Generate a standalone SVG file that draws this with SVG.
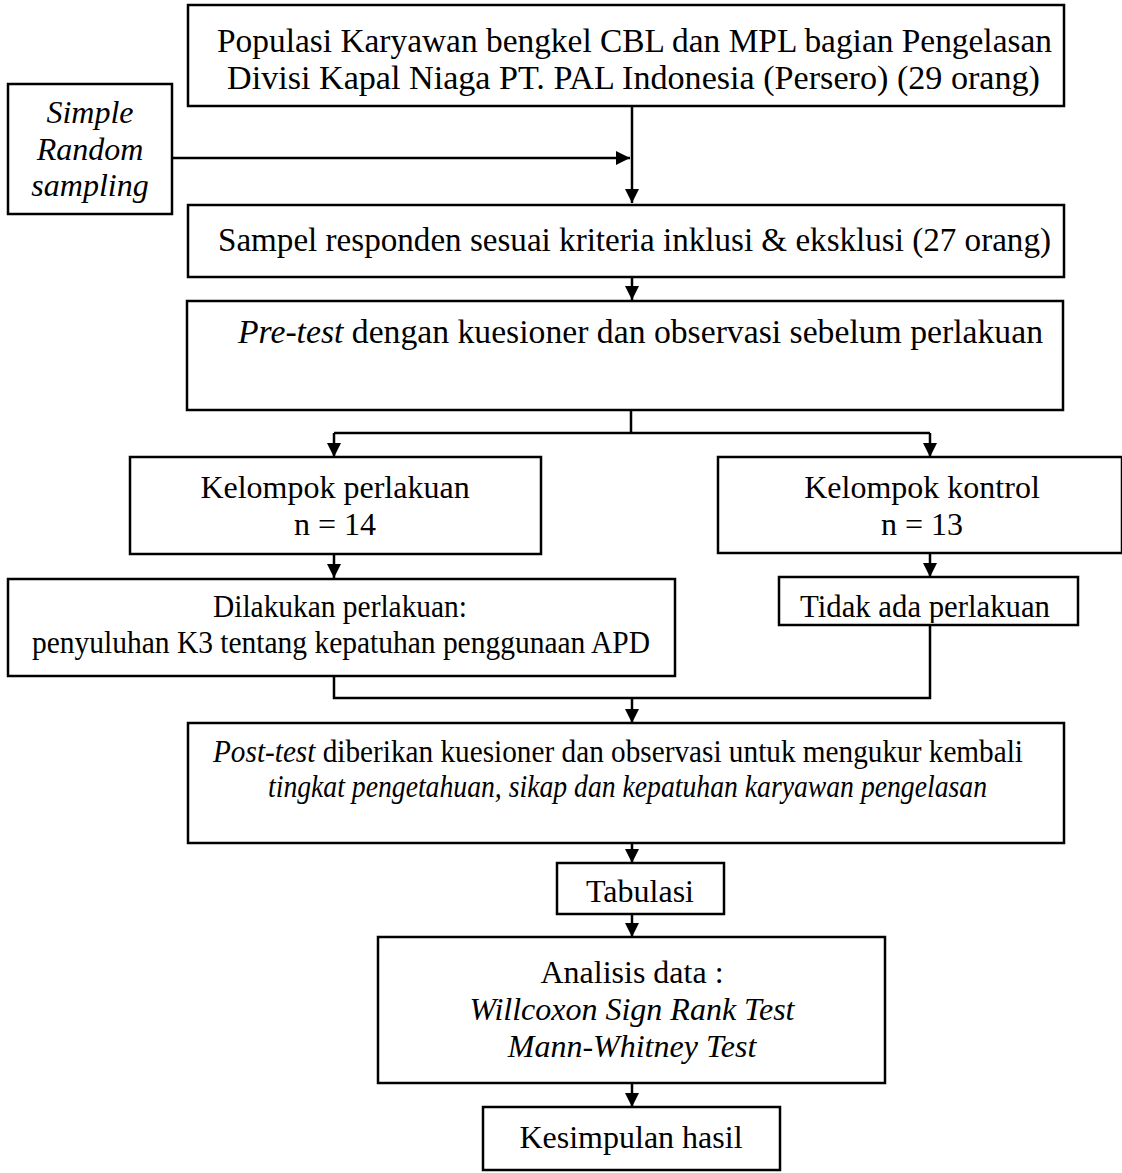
<svg xmlns="http://www.w3.org/2000/svg" width="1122" height="1173" viewBox="0 0 1122 1173">
<defs>
<marker id="ah" markerUnits="userSpaceOnUse" markerWidth="14" markerHeight="16" refX="14" refY="7" orient="auto">
<path d="M0,0 L14,7 L0,14 Z" fill="#000"/>
</marker>
<clipPath id="clipTidak"><rect x="779" y="577" width="299" height="46"/></clipPath>
<style>
rect{fill:#fff;stroke:#000;stroke-width:2.5}
text{font-family:"Liberation Serif","Times New Roman",serif;font-size:32px;fill:#000;text-anchor:middle}
.i{font-style:italic}
.big{font-size:33px}
.mid{font-size:31px}
.c{fill:none;stroke:#000;stroke-width:2.5}
</style>
</defs>
<rect x="0" y="0" width="1122" height="1173" style="fill:#fff;stroke:none"/>
<g id="connectors">
<path class="c" d="M632,107 V203" marker-end="url(#ah)"/>
<path class="c" d="M172,158 H630" marker-end="url(#ah)"/>
<path class="c" d="M632,278 V300" marker-end="url(#ah)"/>
<path class="c" d="M631,410 V433 M334,433 H930"/>
<path class="c" d="M334,433 V457" marker-end="url(#ah)"/>
<path class="c" d="M930,433 V457" marker-end="url(#ah)"/>
<path class="c" d="M334,554 V578" marker-end="url(#ah)"/>
<path class="c" d="M930,554 V577" marker-end="url(#ah)"/>
<path class="c" d="M334,676 V698 H930 V625"/>
<path class="c" d="M632,698 V723" marker-end="url(#ah)"/>
<path class="c" d="M632,843 V863" marker-end="url(#ah)"/>
<path class="c" d="M632,914 V937" marker-end="url(#ah)"/>
<path class="c" d="M632,1083 V1107" marker-end="url(#ah)"/>
</g>
<g id="populasi">
<rect x="188" y="5" width="876" height="101"/>
<text class="big" x="634.5" y="52" textLength="835" lengthAdjust="spacingAndGlyphs">Populasi Karyawan bengkel CBL dan MPL bagian Pengelasan</text>
<text class="big" x="633.5" y="89" textLength="813" lengthAdjust="spacingAndGlyphs">Divisi Kapal Niaga PT. PAL Indonesia (Persero) (29 orang)</text>
</g>
<g id="simple-random">
<rect x="8" y="84" width="164" height="130"/>
<text class="i" x="90" y="123">Simple</text>
<text class="i" x="90" y="160">Random</text>
<text class="i" x="90" y="196">sampling</text>
</g>
<g id="sampel">
<rect x="188" y="205" width="876" height="72"/>
<text class="big" x="634.5" y="251" textLength="833" lengthAdjust="spacingAndGlyphs">Sampel responden sesuai kriteria inklusi &amp; eksklusi (27 orang)</text>
</g>
<g id="pretest">
<rect x="187" y="301" width="876" height="109"/>
<text class="big" x="640.5" y="343" textLength="805" lengthAdjust="spacingAndGlyphs"><tspan class="i">Pre-test</tspan> dengan kuesioner dan observasi sebelum perlakuan</text>
</g>
<g id="kelompok-perlakuan">
<rect x="130" y="457" width="411" height="97"/>
<text x="335" y="498">Kelompok perlakuan</text>
<text x="335" y="535">n = 14</text>
</g>
<g id="kelompok-kontrol">
<rect x="718" y="457" width="404" height="96"/>
<text x="922" y="498">Kelompok kontrol</text>
<text x="922" y="535">n = 13</text>
</g>
<g id="dilakukan">
<rect x="8" y="579" width="667" height="97"/>
<text class="mid" x="340" y="617" textLength="254" lengthAdjust="spacingAndGlyphs">Dilakukan perlakuan:</text>
<text class="mid" x="341" y="653" textLength="618" lengthAdjust="spacingAndGlyphs">penyuluhan K3 tentang kepatuhan penggunaan APD</text>
</g>
<g id="tidak-ada">
<rect x="779" y="577" width="299" height="48"/>
<text class="mid" x="925" y="617" textLength="250" lengthAdjust="spacingAndGlyphs" clip-path="url(#clipTidak)">Tidak ada perlakuan</text>
</g>
<g id="posttest">
<rect x="188" y="723" width="876" height="120"/>
<text class="mid" x="618" y="762" textLength="810" lengthAdjust="spacingAndGlyphs"><tspan class="i">Post-test</tspan> diberikan kuesioner dan observasi untuk mengukur kembali</text>
<text class="mid i" x="627.5" y="797" textLength="719" lengthAdjust="spacingAndGlyphs">tingkat pengetahuan, sikap dan kepatuhan karyawan pengelasan</text>
</g>
<g id="tabulasi">
<rect x="557" y="863" width="167" height="51"/>
<text x="640" y="902">Tabulasi</text>
</g>
<g id="analisis">
<rect x="378" y="937" width="507" height="146"/>
<text x="632" y="983">Analisis data :</text>
<text class="i" x="632" y="1020">Willcoxon Sign Rank Test</text>
<text class="i" x="632" y="1057">Mann-Whitney Test</text>
</g>
<g id="kesimpulan">
<rect x="483" y="1107" width="297" height="63"/>
<text x="631" y="1148">Kesimpulan hasil</text>
</g>
</svg>
